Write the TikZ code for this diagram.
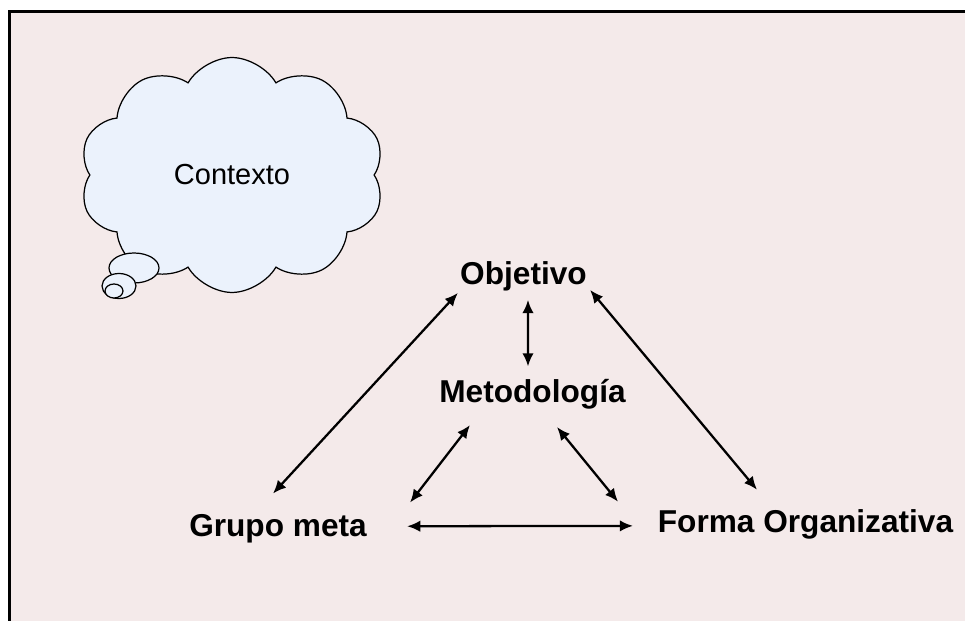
\documentclass[tikz,border=0pt]{standalone}
\usepackage{fontspec}
\setmainfont{Liberation Sans}
\usetikzlibrary{shapes.symbols, arrows.meta, positioning}
\definecolor{bgpink}{RGB}{244,234,234}
\definecolor{cloudblue}{RGB}{235,242,252}
\tikzset{concept/.style={inner sep=0pt, anchor=base,
             font=\bfseries\fontsize{18}{20}\selectfont},
         thought/.style={draw, fill=cloudblue, line width=0.7pt},
         biarrow/.style={<->, line width=1.3pt},
         >={Latex[length=7.5pt,width=6.5pt]}}
\begin{document}
\begin{tikzpicture}[x=0.02cm, y=-0.02cm]
    \useasboundingbox (0,0) rectangle (965,621);
    \clip (0,0) rectangle (965,621);
    \fill[white] (0,0) rectangle (965,621);
    \draw[fill=bgpink, line width=2pt] (9.7,11.5) rectangle (990,650);

    % the thought cloud and its tail
    \node[thought, cloud, cloud puffs=10, cloud puff arc=120, aspect=1.3,
          minimum width=6.1cm, minimum height=4.7cm,
          font=\fontsize{16.5}{18}\selectfont] (contexto) at (232,175) {Contexto};
    \draw[thought] (134,268) ellipse [x radius=25, y radius=15];
    \draw[thought] (119,286) ellipse [x radius=17, y radius=12.5];
    \draw[thought] (114,291) ellipse [x radius=9, y radius=7];

    \node[concept] (objetivo) at (523.5,285) {Objetivo};
    \node[concept] (metodo) at (532.5,403) {Metodología};
    \node[concept] (grupo) at (278,537) {Grupo meta};
    \node[concept] (forma) at (805.5,533) {Forma Organizativa};

    \draw[biarrow] ([shift={(-5,-21)}]grupo.north) -- ([shift={(-2,1)}]objetivo.south west);
    \draw[biarrow] ([shift={(4.5,8)}]objetivo.south) -- ([shift={(-4.5,-13)}]metodo.north);
    \draw[biarrow] ([shift={(-62.5,15)}]metodo.south) -- ([shift={(43,-12)}]grupo.north east);
    \draw[biarrow] ([shift={(24.5,17)}]metodo.south) -- ([shift={(-39.5,-8)}]forma.north west);
    \draw[biarrow] ([shift={(40,-3)}]grupo.east) -- ([shift={(-24.5,1)}]forma.west);
    \draw[biarrow] ([shift={(-48.5,-20)}]forma.north) -- ([shift={(3,-2)}]objetivo.south east);
\end{tikzpicture}
\end{document}
